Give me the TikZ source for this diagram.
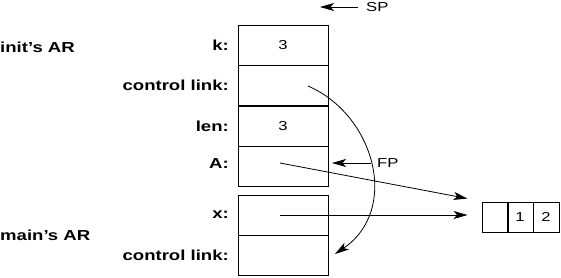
\documentclass[tikz,border=0pt]{standalone}
\usepackage{fontspec}
\setmainfont{Liberation Sans}
\newfontfamily\widefont[FakeStretch=1.28]{Liberation Sans}
\usetikzlibrary{arrows.meta}

\begin{document}
\begin{tikzpicture}[x=1pt, y=-1pt,
        cell/.style={rectangle, draw=black, line width=0.9pt, minimum width=90pt, minimum height=40pt, inner sep=0pt, font=\widefont\fontsize{13}{13}\selectfont},
        elem/.style={cell, minimum width=26pt, minimum height=30pt},
        slot/.style={anchor=east, inner sep=0pt, font=\widefont\fontsize{14.5}{15}\bfseries},
        frame/.style={anchor=west, inner sep=0pt, font=\widefont\fontsize{14.5}{15}\bfseries},
        reg/.style={inner sep=0pt, font=\widefont\fontsize{13}{13}\selectfont},
        ptr/.style={-{Stealth[length=14pt, width=8pt, inset=3.5pt]}, line width=0.8pt}]
        \useasboundingbox (0,0) rectangle (561,277);

        % init's activation record
        \node[cell] (k) at (283, 45) {3};
        \node[cell] (cl) at (283, 85) {};
        \node[cell] (len) at (283, 126) {3};
        \node[cell] (A) at (283, 166) {};

        % main's activation record
        \node[cell] (x) at (283, 215) {};
        \node[cell] (cl2) at (283, 255) {};

        % the array
        \node[elem] (arr0) at (495, 217) {};
        \node[elem] (arr1) at (520, 217) {1};
        \node[elem] (arr2) at (546, 217) {2};

        \node[slot] (kl) at (229, 45) {k:};
        \node[slot] (cll) at (229, 85) {control link:};
        \node[slot] (lenl) at (229, 126) {len:};
        \node[slot] (Al) at (229, 164) {A:};
        \node[slot] (xl) at (229, 215) {x:};
        \node[slot] (cl2l) at (229, 255) {control link:};

        \node[frame] (init) at (0, 47) {init’s AR};
        \node[frame] (main) at (0, 235) {main’s AR};

        % stack and frame pointers
        \node[reg, anchor=west] (sp) at (366, 7) {SP};
        \node[reg, anchor=west] (fp) at (377, 163) {FP};
        \coordinate (sptip) at (320, 7);
        \coordinate (fptip) at (332, 163);
        \draw[ptr] ([xshift=-8pt]sp.west) -- (sptip);
        \draw[ptr] ([xshift=-6pt]fp.west) -- (fptip);

        % pointers into the array
        \draw[ptr] ([xshift=-3pt, yshift=3pt]A.center) -- ([xshift=-14pt, yshift=3pt]arr0.north west);
        \draw[ptr] ([xshift=-3pt]x.center) -- ([xshift=-14pt, yshift=2pt]arr0.west);

        % control link back to main
        \coordinate (clsrc) at (308, 86);
        \coordinate (cldst) at (335, 254);
        \draw[ptr] (clsrc) .. controls (375, 115) and (400, 210) .. (cldst);
    \end{tikzpicture}
\end{document}
